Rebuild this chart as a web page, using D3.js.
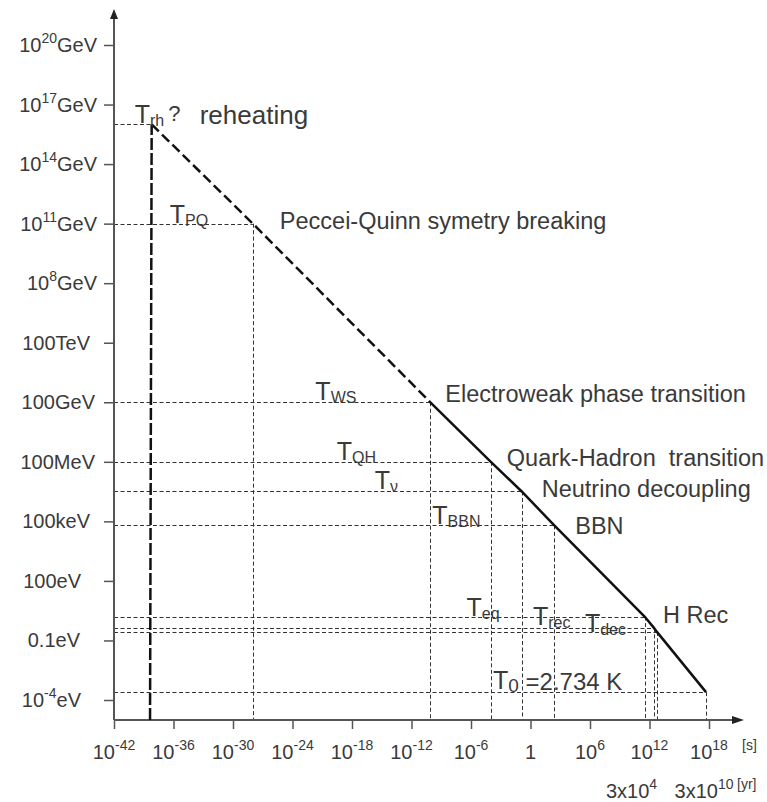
<!DOCTYPE html>
<html>
<head>
<meta charset="utf-8">
<script src="https://cdn.jsdelivr.net/npm/d3@7"></script>
<style>
    body { margin: 0; background: #fff; }
    svg text { font-family: "Liberation Sans", Arial, sans-serif; fill: #3a3a3a; }
</style>
</head>
<body>
<script>
// Tick values: time in seconds (exponents), temperature in eV
var xTickExps = [-42, -36, -30, -24, -18, -12, -6, 0, 6, 12, 18];
var yTickValues = [1e29, 1e26, 1e23, 1e20, 1e17, 1e14, 1e11, 1e8, 1e5, 1e2, 1e-1, 1e-4];
var yTickLabels = ["10^20GeV", "10^17GeV", "10^14GeV", "10^11GeV", "10^8GeV", "100TeV",
    "100GeV", "100MeV", "100keV", "100eV", "0.1eV", "10^-4eV"];
var yrTickExps = [12, 18];
var yrTickLabels = ["3x10^4", "3x10^10"];

// Events along the cooling curve
var eventSubs = ["rh", "PQ", "WS", "QH", "\u03bd", "BBN", "eq", "rec", "dec", "0"];
var eventTimes = [6.3e-39, 1e-28, 8e-11, 1e-4, 0.13, 250, 3.2e11, 2.8e12, 5.6e12, 5e17];
var eventTemps = [1e25, 1e20, 1e11, 1e8, 3.2e6, 6.3e4, 1.6, 0.43, 0.27, 2.5e-4];
var eventTexts = ["reheating", "Peccei-Quinn symetry breaking", "Electroweak phase transition",
    "Quark-Hadron  transition", "Neutrino decoupling", "BBN", "", "", "H Rec", ""];
var reheatStartTime = 4.3e-39;

// label placement (offsets from the event point)
var tLabelOffsets = [[-17, -1], [-83, -1], [-115, -2], [-154, -2], [-147, -2], [-122, -1],
    [-178, -1], [-121, -3], [-72, 0], [-213, -3]];
var textOffsets = [[48, 0], [27, 5], [15, 0], [16, 4], [20, 6], [21, 9], [0, 0], [0, 0], [6, -9], [0, 0]];
var yLabelEnds = [97, 97, 97, 97, 97, 90, 95, 95, 90, 81, 80, 81];
var yrLabelShift = [-18, -5];

var width = 767, height = 802;
var axisX = 114, axisY = 720;

var xScale = d3.scaleLog()
    .domain([1e-42, 1e18])
    .range([114, 709]);

var yScale = d3.scaleLog()
    .domain([1e-4, 1e29])
    .range([700, 45]);

var svg = d3.select("body").append("svg")
    .attr("width", width)
    .attr("height", height);

var events = eventTimes.map(function (t, i) {
    return { t: t, T: eventTemps[i], sub: eventSubs[i], text: eventTexts[i], i: i };
});

// Helper: base text + superscript (+ trailing text)
function addSup(sel, base, sup, post, supSize, raise) {
    sel.append("tspan").text(base);
    sel.append("tspan").attr("dy", -raise).style("font-size", supSize + "px").text(sup);
    if (post) sel.append("tspan").attr("dy", raise).text(post);
}

// Guide lines (thin dashes) to the axes
var guides = svg.append("g")
    .attr("stroke", "#333")
    .attr("stroke-width", 1)
    .attr("stroke-dasharray", "4,2.5")
    .attr("fill", "none");

guides.selectAll(".hguide")
    .data(events)
    .enter().append("line")
    .attr("x1", axisX)
    .attr("x2", function (d) { return xScale(d.t); })
    .attr("y1", function (d) { return Math.round(yScale(d.T)) + 0.5; })
    .attr("y2", function (d) { return Math.round(yScale(d.T)) + 0.5; });

guides.selectAll(".vguide")
    .data(events.slice(1))
    .enter().append("line")
    .attr("x1", function (d) { return Math.round(xScale(d.t)) + 0.5; })
    .attr("x2", function (d) { return Math.round(xScale(d.t)) + 0.5; })
    .attr("y1", function (d) { return yScale(d.T); })
    .attr("y2", axisY);

// Axes
var xAxis = svg.append("g")
    .attr("transform", "translate(0," + axisY + ")")
    .call(d3.axisBottom(xScale)
        .tickValues(xTickExps.map(function (e) { return Math.pow(10, e); }))
        .tickSize(9)
        .tickSizeOuter(0)
        .tickFormat(""));
xAxis.select(".domain").remove();
xAxis.selectAll(".tick line").attr("stroke", "#555").attr("stroke-width", 1.5);

var yAxis = svg.append("g")
    .attr("transform", "translate(" + axisX + ",0)")
    .call(d3.axisLeft(yScale)
        .tickValues(yTickValues)
        .tickSize(10)
        .tickSizeOuter(0)
        .tickFormat(""));
yAxis.select(".domain").remove();
yAxis.selectAll(".tick line").attr("stroke", "#555").attr("stroke-width", 1.5);

svg.append("line")
    .attr("x1", axisX).attr("x2", 734)
    .attr("y1", axisY).attr("y2", axisY)
    .attr("stroke", "#555").attr("stroke-width", 2);
svg.append("line")
    .attr("x1", axisX).attr("x2", axisX)
    .attr("y1", axisY).attr("y2", 18)
    .attr("stroke", "#555").attr("stroke-width", 2);
svg.append("path")
    .attr("d", "M744," + axisY + "L732," + (axisY - 4) + "L732," + (axisY + 4) + "Z")
    .attr("fill", "#222");
svg.append("path")
    .attr("d", "M" + axisX + ",9L" + (axisX - 4) + ",19L" + (axisX + 4) + ",19Z")
    .attr("fill", "#222");

// X tick labels
svg.selectAll(".xlabel")
    .data(xTickExps)
    .enter().append("text")
    .attr("x", function (e) { return xScale(Math.pow(10, e)); })
    .attr("y", 759)
    .attr("text-anchor", "middle")
    .style("font-size", "20px")
    .each(function (e) {
        var t = d3.select(this);
        if (e === 0) t.text("1");
        else addSup(t, "10", String(e), null, 14, 9);
    });

svg.append("text")
    .attr("x", 742).attr("y", 750)
    .style("font-size", "14px")
    .text("[s]");

// Year labels below
svg.selectAll(".yrlabel")
    .data(yrTickExps)
    .enter().append("text")
    .attr("x", function (e, i) { return xScale(Math.pow(10, e)) + yrLabelShift[i]; })
    .attr("y", 798)
    .attr("text-anchor", "middle")
    .style("font-size", "20px")
    .each(function (e, i) {
        var parts = yrTickLabels[i].split("^");
        addSup(d3.select(this), parts[0], parts[1], null, 14, 9);
    });

svg.append("text")
    .attr("x", 737).attr("y", 789)
    .style("font-size", "14px")
    .text("[yr]");

// Y tick labels
svg.selectAll(".ylabel")
    .data(yTickValues)
    .enter().append("text")
    .attr("x", function (v, i) { return yLabelEnds[i]; })
    .attr("y", function (v) { return yScale(v) + 7; })
    .attr("text-anchor", "end")
    .style("font-size", "20px")
    .each(function (v, i) {
        var m = yTickLabels[i].match(/^(10)\^(-?\d+)(.*)$/);
        var t = d3.select(this);
        if (m) addSup(t, m[1], m[2], m[3], 14, 9);
        else t.text(yTickLabels[i]);
    });

// Reheating: vertical thick dashed line
svg.append("line")
    .attr("x1", xScale(reheatStartTime))
    .attr("y1", axisY)
    .attr("x2", xScale(events[0].t))
    .attr("y2", yScale(events[0].T))
    .attr("stroke", "#111")
    .attr("stroke-width", 2.5)
    .attr("stroke-dasharray", "12,3");

var line = d3.line()
    .x(function (d) { return xScale(d.t); })
    .y(function (d) { return yScale(d.T); });

// Radiation era before the electroweak transition (dashed)
svg.append("path")
    .datum(events.slice(0, 3))
    .attr("d", line)
    .attr("fill", "none")
    .attr("stroke", "#111")
    .attr("stroke-width", 2.5)
    .attr("stroke-dasharray", "10,4.5");

// Known physics afterwards (solid)
svg.append("path")
    .datum(events.slice(2))
    .attr("d", line)
    .attr("fill", "none")
    .attr("stroke", "#111")
    .attr("stroke-width", 2.5);

// T labels
svg.selectAll(".tlabel")
    .data(events)
    .enter().append("text")
    .attr("x", function (d) { return xScale(d.t) + tLabelOffsets[d.i][0]; })
    .attr("y", function (d) { return yScale(d.T) + tLabelOffsets[d.i][1]; })
    .style("font-size", "25px")
    .style("white-space", "pre")
    .each(function (d) {
        var t = d3.select(this);
        var subSize = d.sub === "0" ? 19 : 16;
        t.append("tspan").text("T");
        t.append("tspan").attr("dy", 3).style("font-size", subSize + "px").text(d.sub);
        if (d.sub === "rh") {
            t.append("tspan").attr("dx", 4).attr("dy", -5).style("font-size", "22px").text("?");
        }
        if (d.sub === "0") {
            t.append("tspan").attr("dy", -2).style("font-size", "24px").text(" =2.734 K");
        }
    });

// Event descriptions
svg.selectAll(".etext")
    .data(events.filter(function (d) { return d.text !== ""; }))
    .enter().append("text")
    .attr("x", function (d) { return xScale(d.t) + textOffsets[d.i][0]; })
    .attr("y", function (d) { return yScale(d.T) + textOffsets[d.i][1]; })
    .style("font-size", function (d) { return d.i === 0 ? "26px" : "23.5px"; })
    .style("white-space", "pre")
    .text(function (d) { return d.text; });
</script>
</body>
</html>
